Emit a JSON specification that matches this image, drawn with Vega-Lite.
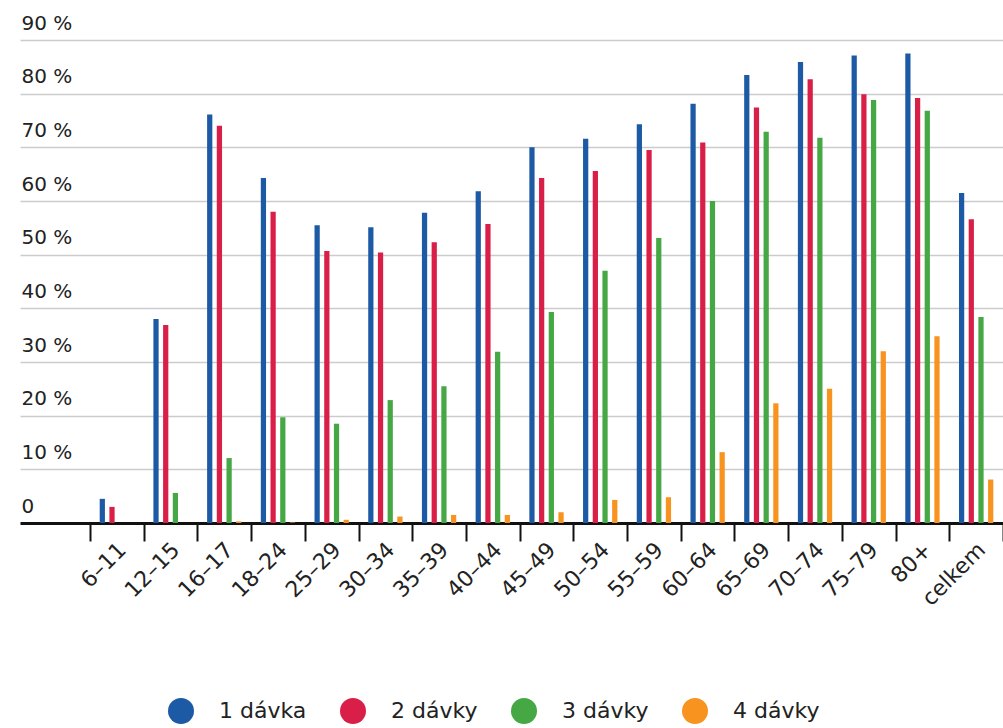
{
  "$schema": "https://vega.github.io/schema/vega-lite/v6.json",
  "width": 983,
  "height": 483,
  "autosize": {"type": "none"},
  "padding": {"left": 20, "top": 40, "right": 0, "bottom": 205},
  "background": "white",
  "config": {
    "view": {"stroke": null},
    "font": "DejaVu Sans",
    "axis": {"labelColor": "#222222", "labelFont": "DejaVu Sans"},
    "legend": {"labelColor": "#222222", "labelFont": "DejaVu Sans"}
  },
  "data": {
    "values": [
      {"age": "6–11", "series": "1 dávka", "value": 4.5},
      {"age": "6–11", "series": "2 dávky", "value": 3.0},
      {"age": "6–11", "series": "3 dávky", "value": 0},
      {"age": "6–11", "series": "4 dávky", "value": 0},
      {"age": "12–15", "series": "1 dávka", "value": 38.0},
      {"age": "12–15", "series": "2 dávky", "value": 36.9},
      {"age": "12–15", "series": "3 dávky", "value": 5.6},
      {"age": "12–15", "series": "4 dávky", "value": 0},
      {"age": "16–17", "series": "1 dávka", "value": 76.1},
      {"age": "16–17", "series": "2 dávky", "value": 74.0},
      {"age": "16–17", "series": "3 dávky", "value": 12.1},
      {"age": "16–17", "series": "4 dávky", "value": 0.3},
      {"age": "18–24", "series": "1 dávka", "value": 64.3},
      {"age": "18–24", "series": "2 dávky", "value": 58.0},
      {"age": "18–24", "series": "3 dávky", "value": 19.7},
      {"age": "18–24", "series": "4 dávky", "value": 0.1},
      {"age": "25–29", "series": "1 dávka", "value": 55.5},
      {"age": "25–29", "series": "2 dávky", "value": 50.7},
      {"age": "25–29", "series": "3 dávky", "value": 18.5},
      {"age": "25–29", "series": "4 dávky", "value": 0.6},
      {"age": "30–34", "series": "1 dávka", "value": 55.1},
      {"age": "30–34", "series": "2 dávky", "value": 50.4},
      {"age": "30–34", "series": "3 dávky", "value": 22.9},
      {"age": "30–34", "series": "4 dávky", "value": 1.2},
      {"age": "35–39", "series": "1 dávka", "value": 57.8},
      {"age": "35–39", "series": "2 dávky", "value": 52.3},
      {"age": "35–39", "series": "3 dávky", "value": 25.5},
      {"age": "35–39", "series": "4 dávky", "value": 1.5},
      {"age": "40–44", "series": "1 dávka", "value": 61.8},
      {"age": "40–44", "series": "2 dávky", "value": 55.7},
      {"age": "40–44", "series": "3 dávky", "value": 31.9},
      {"age": "40–44", "series": "4 dávky", "value": 1.5},
      {"age": "45–49", "series": "1 dávka", "value": 70.0},
      {"age": "45–49", "series": "2 dávky", "value": 64.3},
      {"age": "45–49", "series": "3 dávky", "value": 39.3},
      {"age": "45–49", "series": "4 dávky", "value": 2.0},
      {"age": "50–54", "series": "1 dávka", "value": 71.6},
      {"age": "50–54", "series": "2 dávky", "value": 65.6},
      {"age": "50–54", "series": "3 dávky", "value": 47.0},
      {"age": "50–54", "series": "4 dávky", "value": 4.3},
      {"age": "55–59", "series": "1 dávka", "value": 74.3},
      {"age": "55–59", "series": "2 dávky", "value": 69.5},
      {"age": "55–59", "series": "3 dávky", "value": 53.1},
      {"age": "55–59", "series": "4 dávky", "value": 4.8},
      {"age": "60–64", "series": "1 dávka", "value": 78.1},
      {"age": "60–64", "series": "2 dávky", "value": 70.9},
      {"age": "60–64", "series": "3 dávky", "value": 60.0},
      {"age": "60–64", "series": "4 dávky", "value": 13.2},
      {"age": "65–69", "series": "1 dávka", "value": 83.5},
      {"age": "65–69", "series": "2 dávky", "value": 77.4},
      {"age": "65–69", "series": "3 dávky", "value": 72.9},
      {"age": "65–69", "series": "4 dávky", "value": 22.3},
      {"age": "70–74", "series": "1 dávka", "value": 85.9},
      {"age": "70–74", "series": "2 dávky", "value": 82.7},
      {"age": "70–74", "series": "3 dávky", "value": 71.8},
      {"age": "70–74", "series": "4 dávky", "value": 25.0},
      {"age": "75–79", "series": "1 dávka", "value": 87.1},
      {"age": "75–79", "series": "2 dávky", "value": 79.9},
      {"age": "75–79", "series": "3 dávky", "value": 78.8},
      {"age": "75–79", "series": "4 dávky", "value": 32.0},
      {"age": "80+", "series": "1 dávka", "value": 87.5},
      {"age": "80+", "series": "2 dávky", "value": 79.2},
      {"age": "80+", "series": "3 dávky", "value": 76.8},
      {"age": "80+", "series": "4 dávky", "value": 34.8},
      {"age": "celkem", "series": "1 dávka", "value": 61.5},
      {"age": "celkem", "series": "2 dávky", "value": 56.6},
      {"age": "celkem", "series": "3 dávky", "value": 38.4},
      {"age": "celkem", "series": "4 dávky", "value": 8.1}
    ]
  },
  "mark": {"type": "bar"},
  "encoding": {
    "x": {
      "field": "age",
      "type": "nominal",
      "sort": null,
      "title": null,
      "scale": {"paddingInner": 0, "paddingOuter": 0.6517, "align": 1},
      "axis": {
        "domain": false,
        "ticks": true,
        "tickBand": "extent",
        "tickColor": "#111111",
        "tickWidth": 2,
        "tickSize": 18,
        "labelAngle": -45,
        "labelAlign": "right",
        "labelBaseline": "middle",
        "labelFontSize": 22,
        "labelPadding": 5,
        "labelOffset": 5
      }
    },
    "xOffset": {
      "field": "series",
      "type": "nominal",
      "sort": ["1 dávka", "2 dávky", "3 dávky", "4 dávky"],
      "scale": {"paddingInner": 0.46, "paddingOuter": 1.13}
    },
    "y": {
      "field": "value",
      "type": "quantitative",
      "title": null,
      "scale": {"domain": [0, 90], "nice": false},
      "axis": {
        "values": [0, 10, 20, 30, 40, 50, 60, 70, 80, 90],
        "labelExpr": "datum.value === 0 ? '0' : datum.value + ' %'",
        "domain": false,
        "ticks": false,
        "tickSize": 0,
        "labelAlign": "left",
        "labelBaseline": "alphabetic",
        "labelPadding": -1,
        "labelOffset": -11,
        "labelFontSize": 20,
        "grid": true,
        "gridColor": {"condition": {"test": "datum.value === 0", "value": "#111111"}, "value": "#cccccc"},
        "gridWidth": {"condition": {"test": "datum.value === 0", "value": 3}, "value": 1.5}
      }
    },
    "color": {
      "field": "series",
      "type": "nominal",
      "sort": ["1 dávka", "2 dávky", "3 dávky", "4 dávky"],
      "scale": {
        "domain": ["1 dávka", "2 dávky", "3 dávky", "4 dávky"],
        "range": ["#1d5aa5", "#d91f47", "#45a844", "#f7931e"]
      },
      "legend": {
        "title": null,
        "orient": "none",
        "direction": "horizontal",
        "legendX": 148,
        "legendY": 658,
        "symbolType": "circle",
        "symbolSize": 676,
        "symbolStrokeWidth": 0,
        "labelFontSize": 22,
        "labelOffset": 25,
        "columnPadding": 33,
        "padding": 0
      }
    }
  }
}
